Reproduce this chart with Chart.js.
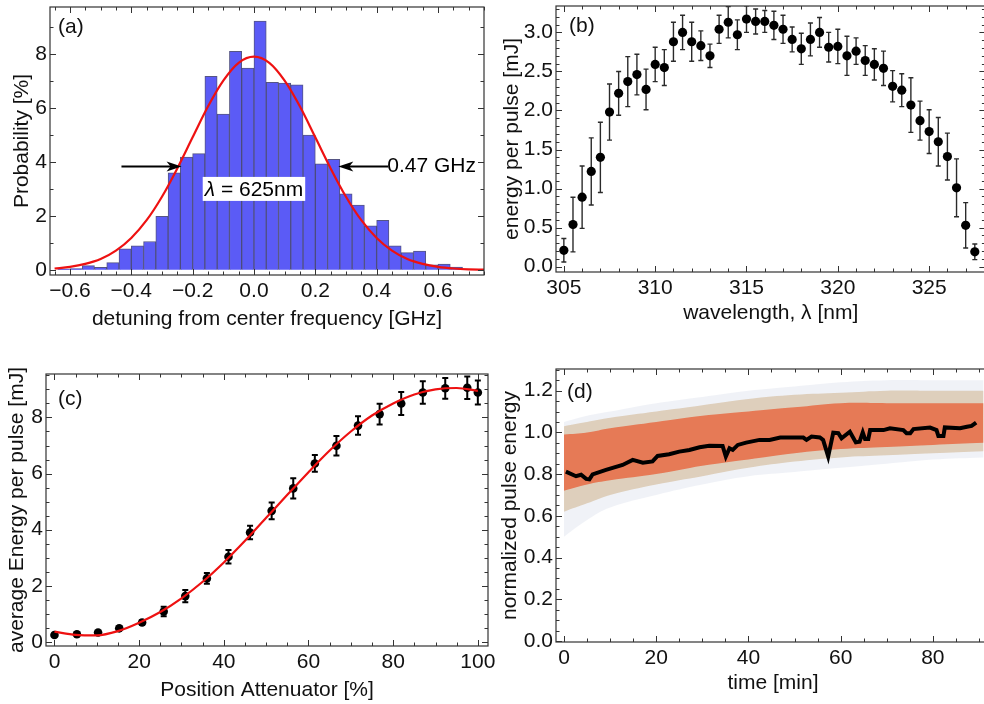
<!DOCTYPE html>
<html>
<head>
<meta charset="utf-8">
<script src="https://cdn.jsdelivr.net/npm/chart.js@4.4.1/dist/chart.umd.min.js"></script>
<style>
html, body { margin: 0; padding: 0; background: #fff; }
body { width: 984px; height: 704px; position: relative; overflow: hidden; }
canvas { position: absolute; }
</style>
</head>
<body>
<canvas id="chartA" width="492" height="340" style="left:0;top:0"></canvas>
<canvas id="chartB" width="500" height="340" style="left:490px;top:0"></canvas>
<canvas id="chartC" width="496" height="349" style="left:0;top:355px"></canvas>
<canvas id="chartD" width="500" height="349" style="left:490px;top:355px"></canvas>
<script>
// (a) histogram of detuning, bins of 0.04 GHz
const aBinCenter = [-0.62, -0.58, -0.54, -0.50, -0.46, -0.42, -0.38, -0.34, -0.30, -0.26, -0.22,
    -0.18, -0.14, -0.10, -0.06, -0.02, 0.02, 0.06, 0.10, 0.14, 0.18, 0.22,
    0.26, 0.30, 0.34, 0.38, 0.42, 0.46, 0.50, 0.54, 0.58, 0.62, 0.66];
const aProb = [0.04, 0.05, 0.16, 0.09, 0.27, 0.78, 0.89, 1.05, 1.98, 3.60, 4.18,
    4.31, 7.17, 5.77, 8.10, 7.48, 9.22, 6.95, 6.92, 6.86, 4.99, 3.93,
    4.10, 2.82, 2.40, 1.63, 1.84, 0.89, 0.64, 0.70, 0.19, 0.21, 0.10];
// gaussian fit curve
const aFitX = [-0.65, -0.60, -0.55, -0.50, -0.45, -0.40, -0.35, -0.30, -0.25, -0.20, -0.15, -0.10, -0.05,
    0.00, 0.05, 0.10, 0.15, 0.20, 0.25, 0.30, 0.35, 0.40, 0.45, 0.50, 0.55, 0.60, 0.65, 0.70, 0.75];
const aFitY = [0.05, 0.11, 0.22, 0.40, 0.71, 1.18, 1.84, 2.71, 3.76, 4.91, 6.05, 7.01, 7.67,
    7.90, 7.67, 7.01, 6.05, 4.91, 3.76, 2.71, 1.84, 1.18, 0.71, 0.40, 0.22, 0.11, 0.05, 0.02, 0.01];
const aArrowY = 3.83;
const aLeftArrow = [-0.432, -0.236];   // from, tip
const aRightArrow = [0.438, 0.275];   // from, tip
const aWidthText = '0.47 GHz';
const aLambdaPos = [0.0, 3.0];

// (b) energy vs wavelength
const bWave = [305, 305.5, 306, 306.5, 307, 307.5, 308, 308.5, 309, 309.5,
    310, 310.5, 311, 311.5, 312, 312.5, 313, 313.5, 314, 314.5,
    315, 315.5, 316, 316.5, 317, 317.5, 318, 318.5, 319, 319.5,
    320, 320.5, 321, 321.5, 322, 322.5, 323, 323.5, 324, 324.5,
    325, 325.5, 326, 326.5, 327, 327.5];
const bEnergy = [0.21, 0.54, 0.89, 1.22, 1.40, 1.98, 2.22, 2.37, 2.46, 2.27,
    2.59, 2.55, 2.88, 3.00, 2.88, 2.83, 2.70, 3.04, 3.13, 2.97,
    3.17, 3.14, 3.14, 3.09, 3.04, 2.91, 2.79, 2.91, 3.00, 2.81,
    2.82, 2.70, 2.76, 2.64, 2.59, 2.54, 2.31, 2.26, 2.07, 1.87,
    1.73, 1.60, 1.41, 1.01, 0.53, 0.19];
const bErr = [0.15, 0.35, 0.40, 0.43, 0.45, 0.36, 0.28, 0.32, 0.26, 0.26,
    0.22, 0.23, 0.25, 0.22, 0.25, 0.19, 0.15, 0.18, 0.20, 0.19,
    0.17, 0.16, 0.14, 0.18, 0.18, 0.16, 0.20, 0.21, 0.19, 0.19,
    0.22, 0.25, 0.17, 0.19, 0.20, 0.22, 0.20, 0.21, 0.35, 0.25,
    0.28, 0.31, 0.30, 0.37, 0.29, 0.10];

// (c) energy vs attenuator position
const cPos = [0, 5.3, 10.3, 15.3, 20.7, 25.8, 30.9, 36.0, 41.1, 46.2, 51.3,
    56.4, 61.5, 66.6, 71.7, 76.8, 81.9, 87.0, 92.3, 97.5, 100];
const cEnergy = [0.24, 0.27, 0.33, 0.48, 0.69, 1.08, 1.63, 2.26, 3.03, 3.90, 4.67,
    5.47, 6.36, 6.99, 7.71, 8.12, 8.50, 8.89, 9.04, 9.06, 8.89];
const cErr = [0.05, 0.05, 0.05, 0.06, 0.08, 0.17, 0.22, 0.19, 0.24, 0.24, 0.30,
    0.36, 0.30, 0.35, 0.33, 0.37, 0.41, 0.40, 0.37, 0.40, 0.43];
const cFitX = [0, 5, 10, 15, 20, 25, 30, 35, 40, 45, 50, 55, 60, 65, 70, 75, 80, 85, 90, 95, 100];
const cFitY = [0.36, 0.25, 0.23, 0.38, 0.68, 1.06, 1.55, 2.14, 2.83, 3.60, 4.42,
    5.24, 6.05, 6.82, 7.50, 8.07, 8.50, 8.82, 9.00, 9.05, 8.95];

// (d) pulse energy spread (envelopes of the point cloud) and running mean
const dBandT = [0, 5, 10, 20, 30, 40, 50, 60, 70, 80, 91];
const dOuterHi = [1.05, 1.08, 1.10, 1.14, 1.17, 1.20, 1.22, 1.24, 1.25, 1.25, 1.25];
const dOuterLo = [0.50, 0.58, 0.64, 0.70, 0.75, 0.79, 0.81, 0.83, 0.85, 0.87, 0.88];
const dMidHi = [1.03, 1.05, 1.07, 1.10, 1.13, 1.16, 1.18, 1.19, 1.20, 1.20, 1.20];
const dMidLo = [0.62, 0.66, 0.70, 0.75, 0.79, 0.83, 0.86, 0.88, 0.89, 0.90, 0.91];
const dCoreHi = [0.99, 1.00, 1.02, 1.05, 1.08, 1.10, 1.12, 1.14, 1.14, 1.14, 1.14];
const dCoreLo = [0.72, 0.75, 0.77, 0.80, 0.84, 0.87, 0.90, 0.92, 0.93, 0.94, 0.95];
const dTime = [0.4, 2.6, 3.7, 4.8, 5.5, 6.2, 9.1, 12.7, 14.9, 17.1, 19.2, 20.3, 22.8, 25.0, 27.2,
    29.4, 31.5, 34.4, 35.1, 35.9, 36.6, 37.7, 39.5, 42.4, 44.6, 46.9, 51.9, 52.6, 53.7, 55.5,
    56.2, 57.3, 58.4, 59.5, 60.2, 62.0, 63.3, 64.1, 64.8, 65.3, 66.0, 66.4, 69.3, 70.7, 73.6,
    74.3, 75.1, 75.8, 79.4, 80.8, 81.2, 82.3, 82.6, 85.9, 87.4, 88.4, 89.4];
const dMean = [0.812, 0.790, 0.797, 0.777, 0.775, 0.799, 0.820, 0.844, 0.868, 0.855, 0.861, 0.887, 0.895, 0.908, 0.916,
    0.929, 0.936, 0.935, 0.884, 0.924, 0.916, 0.940, 0.951, 0.964, 0.964, 0.975, 0.975, 0.964, 0.980, 0.976,
    0.964, 0.884, 0.999, 0.996, 0.972, 1.003, 0.952, 0.955, 1.000, 0.968, 0.968, 1.011, 1.011, 1.020, 1.011,
    0.996, 0.996, 1.016, 1.023, 1.011, 0.983, 0.983, 1.024, 1.020, 1.027, 1.031, 1.047];

const FONT = "'Liberation Sans', Arial, sans-serif";
Chart.defaults.font.family = FONT;
Chart.defaults.font.size = 21;
Chart.defaults.color = '#111';
Chart.defaults.animation = false;
Chart.defaults.events = [];
Chart.defaults.plugins.legend.display = false;
Chart.defaults.plugins.tooltip.enabled = false;

const pts = (xs, ys) => xs.map((x, i) => ({ x, y: ys[i] }));

function fmt(v, digits) {
    if (Math.abs(v) < 1e-9) v = 0;
    return v.toFixed(digits).replace('-', '\u2212');
}

// axis with fixed thickness so the plot frames land where they should
function axis({ min, max, step, digits, size, title, titlePad, tickPad, horizontal }) {
    return {
        type: 'linear', min, max, offset: false,
        grid: { display: false, drawTicks: false },
        border: { display: false },
        ticks: {
            stepSize: step, includeBounds: false, autoSkip: false, maxRotation: 0,
            padding: tickPad, callback: v => fmt(v, digits)
        },
        title: { display: true, text: title, padding: titlePad },
        afterFit(s) {
            if (horizontal) s.height = size; else s.width = size;
            s.paddingLeft = s.paddingRight = s.paddingTop = s.paddingBottom = 0;
        }
    };
}

// Mathematica style frame: box with inward ticks on every side + panel letter
const framePlugin = {
    id: 'frame',
    afterDraw(chart, args, o) {
        const { ctx, chartArea: a, scales: { x, y } } = chart;
        ctx.save();
        ctx.strokeStyle = '#333';
        ctx.lineWidth = 1.2;
        ctx.strokeRect(a.left, a.top, a.right - a.left, a.bottom - a.top);
        ctx.lineWidth = 1;
        ctx.beginPath();
        const isMajor = (v, step) => Math.abs(v / step - Math.round(v / step)) < 1e-6;
        for (let k = Math.ceil(x.min / o.xMinor - 1e-9); k * o.xMinor <= x.max + 1e-9; k++) {
            const v = k * o.xMinor;
            const len = isMajor(v, o.xMajor) ? 6 : 3.5;
            const px = Math.round(x.getPixelForValue(v)) + 0.5;
            ctx.moveTo(px, a.bottom); ctx.lineTo(px, a.bottom - len);
            ctx.moveTo(px, a.top); ctx.lineTo(px, a.top + len);
        }
        for (let k = Math.ceil(y.min / o.yMinor - 1e-9); k * o.yMinor <= y.max + 1e-9; k++) {
            const v = k * o.yMinor;
            const len = isMajor(v, o.yMajor) ? 6 : 3.5;
            const py = Math.round(y.getPixelForValue(v)) + 0.5;
            ctx.moveTo(a.left, py); ctx.lineTo(a.left + len, py);
            ctx.moveTo(a.right, py); ctx.lineTo(a.right - len, py);
        }
        ctx.stroke();
        ctx.fillStyle = '#111';
        ctx.font = '21px ' + FONT;
        ctx.textBaseline = 'middle';
        ctx.textAlign = 'left';
        ctx.fillText(o.label, a.left + o.labelDx, a.top + o.labelDy);
        ctx.restore();
    }
};

const errorBarPlugin = {
    id: 'errorBars',
    beforeDatasetsDraw(chart, args, o) {
        const { ctx, chartArea: a, scales: { y } } = chart;
        ctx.save();
        ctx.beginPath();
        ctx.rect(a.left, a.top, a.right - a.left, a.bottom - a.top);
        ctx.clip();
        ctx.strokeStyle = o.color;
        ctx.lineWidth = o.width;
        chart.data.datasets.forEach((ds, i) => {
            if (!ds.errors) return;
            chart.getDatasetMeta(i).data.forEach((el, j) => {
                const v = ds.data[j].y, e = ds.errors[j];
                const top = y.getPixelForValue(v + e), bot = y.getPixelForValue(v - e);
                ctx.beginPath();
                ctx.moveTo(el.x, top); ctx.lineTo(el.x, bot);
                ctx.moveTo(el.x - o.cap, top); ctx.lineTo(el.x + o.cap, top);
                ctx.moveTo(el.x - o.cap, bot); ctx.lineTo(el.x + o.cap, bot);
                ctx.stroke();
            });
        });
        ctx.restore();
    }
};

function arrow(ctx, x0, x1, y) {
    const dir = Math.sign(x1 - x0);
    ctx.beginPath();
    ctx.moveTo(x0, y); ctx.lineTo(x1 - dir * 10, y);
    ctx.stroke();
    ctx.beginPath();
    ctx.moveTo(x1, y);
    ctx.lineTo(x1 - dir * 15, y - 5);
    ctx.lineTo(x1 - dir * 11, y);
    ctx.lineTo(x1 - dir * 15, y + 5);
    ctx.closePath();
    ctx.fill();
}

// FWHM arrows and wavelength label of panel (a)
const fwhmPlugin = {
    id: 'fwhm',
    afterDatasetsDraw(chart) {
        const { ctx, scales: { x, y } } = chart;
        const ya = y.getPixelForValue(aArrowY);
        ctx.save();
        ctx.strokeStyle = '#000';
        ctx.fillStyle = '#000';
        ctx.lineWidth = 2;
        arrow(ctx, x.getPixelForValue(aLeftArrow[0]), x.getPixelForValue(aLeftArrow[1]), ya);
        arrow(ctx, x.getPixelForValue(aRightArrow[0]), x.getPixelForValue(aRightArrow[1]), ya);
        ctx.textBaseline = 'middle';
        ctx.textAlign = 'left';
        ctx.font = '21px ' + FONT;
        ctx.fillText(aWidthText, x.getPixelForValue(aRightArrow[0]) - 1, ya);

        const lam = 'λ', rest = ' = 625nm';
        ctx.font = 'italic 21px ' + FONT;
        const wl = ctx.measureText(lam).width;
        ctx.font = '21px ' + FONT;
        const wr = ctx.measureText(rest).width;
        const cx = x.getPixelForValue(aLambdaPos[0]), cy = y.getPixelForValue(aLambdaPos[1]);
        const w = wl + wr + 4, left = cx - w / 2;
        ctx.fillStyle = '#fff';
        ctx.fillRect(left, cy - 12, w, 24);
        ctx.fillStyle = '#000';
        ctx.font = 'italic 21px ' + FONT;
        ctx.fillText(lam, left + 2, cy + 1);
        ctx.font = '21px ' + FONT;
        ctx.fillText(rest, left + 2 + wl, cy + 1);
        ctx.restore();
    }
};

// (a)
new Chart(document.getElementById('chartA'), {
    type: 'bar',
    data: {
        datasets: [
            {
                type: 'line', data: pts(aFitX, aFitY), borderColor: '#ee1111', borderWidth: 2.2,
                pointRadius: 0, cubicInterpolationMode: 'monotone', order: 0
            },
            {
                type: 'bar', data: pts(aBinCenter, aProb), backgroundColor: '#5b5bf6',
                borderColor: 'rgba(55,55,110,0.85)', borderWidth: 1,
                barPercentage: 1, categoryPercentage: 1, order: 1
            }
        ]
    },
    options: {
        responsive: false,
        layout: { padding: { top: 7, right: 8, left: 0, bottom: 0 } },
        scales: {
            x: axis({ min: -0.665, max: 0.75, step: 0.2, digits: 1, size: 65, horizontal: true,
                title: 'detuning from center frequency [GHz]', titlePad: { top: 0, bottom: 8.4 }, tickPad: 4 }),
            y: axis({ min: -0.19, max: 9.74, step: 2, digits: 0, size: 50,
                title: 'Probability [%]', titlePad: { top: 9.4, bottom: 0 }, tickPad: 3 })
        },
        plugins: { frame: { xMajor: 0.2, xMinor: 0.05, yMajor: 2, yMinor: 1, label: '(a)', labelDx: 8, labelDy: 20 } }
    },
    plugins: [fwhmPlugin, framePlugin]
});

// (b)
new Chart(document.getElementById('chartB'), {
    type: 'scatter',
    data: {
        datasets: [{
            data: pts(bWave, bEnergy), errors: bErr, pointRadius: 4.6,
            backgroundColor: '#000', borderWidth: 0
        }]
    },
    options: {
        responsive: false,
        layout: { padding: { top: 6, right: 0, left: 0, bottom: 0 } },
        scales: {
            x: axis({ min: 304.57, max: 328.08, step: 5, digits: 0, size: 68, horizontal: true,
                title: 'wavelength, λ [nm]', titlePad: { top: 0, bottom: 14.4 }, tickPad: 4 }),
            y: axis({ min: -0.068, max: 3.338, step: 0.5, digits: 1, size: 66,
                title: 'energy per pulse [mJ]', titlePad: { top: 9.4, bottom: 0 }, tickPad: 3 })
        },
        plugins: {
            frame: { xMajor: 5, xMinor: 1, yMajor: 0.5, yMinor: 0.1, label: '(b)', labelDx: 13, labelDy: 20 },
            errorBars: { color: '#2a2a2a', width: 1.4, cap: 2.5 }
        }
    },
    plugins: [errorBarPlugin, framePlugin]
});

// (c)
new Chart(document.getElementById('chartC'), {
    type: 'scatter',
    data: {
        datasets: [
            {
                type: 'line', data: pts(cFitX, cFitY), borderColor: '#ee1111', borderWidth: 2.2,
                pointRadius: 0, cubicInterpolationMode: 'monotone', order: 0
            },
            {
                data: pts(cPos, cEnergy), errors: cErr, pointRadius: 4.3,
                backgroundColor: '#000', borderWidth: 0, order: 1
            }
        ]
    },
    options: {
        responsive: false,
        layout: { padding: { top: 19, right: 8, left: 0, bottom: 0 } },
        scales: {
            x: axis({ min: -2.0, max: 102.4, step: 20, digits: 0, size: 58, horizontal: true,
                title: 'Position Attenuator [%]', titlePad: { top: 0, bottom: 1.4 }, tickPad: 4 }),
            y: axis({ min: -0.15, max: 9.55, step: 2, digits: 0, size: 46,
                title: 'average Energy per pulse [mJ]', titlePad: { top: 4.4, bottom: 0 }, tickPad: 3 })
        },
        plugins: {
            frame: { xMajor: 20, xMinor: 5, yMajor: 2, yMinor: 0.5, label: '(c)', labelDx: 12, labelDy: 25 },
            errorBars: { color: '#000', width: 2, cap: 3 }
        }
    },
    plugins: [errorBarPlugin, framePlugin]
});

// (d)
const band = (ys, color, fill, order) => ({
    data: pts(dBandT, ys), borderWidth: 0, pointRadius: 0, tension: 0.4,
    backgroundColor: color, fill, order
});
new Chart(document.getElementById('chartD'), {
    type: 'line',
    data: {
        datasets: [
            band(dOuterHi, 'rgba(165,175,205,0.17)', '+1', 3),
            band(dOuterLo, 'transparent', false, 3),
            band(dMidHi, 'rgba(200,165,115,0.45)', '+1', 2),
            band(dMidLo, 'transparent', false, 2),
            band(dCoreHi, 'rgba(232,98,58,0.78)', '+1', 1),
            band(dCoreLo, 'transparent', false, 1),
            { data: pts(dTime, dMean), borderColor: '#000', borderWidth: 4, pointRadius: 0, fill: false, order: 0 }
        ]
    },
    options: {
        responsive: false,
        layout: { padding: { top: 14, right: 0, left: 0, bottom: 0 } },
        scales: {
            x: axis({ min: -1.74, max: 92.4, step: 20, digits: 0, size: 62, horizontal: true,
                title: 'time [min]', titlePad: { top: 0, bottom: 8.4 }, tickPad: 4 }),
            y: axis({ min: -0.005, max: 1.304, step: 0.2, digits: 1, size: 66,
                title: 'normalized pulse energy', titlePad: { top: 7.4, bottom: 0 }, tickPad: 3 })
        },
        plugins: { frame: { xMajor: 20, xMinor: 5, yMajor: 0.2, yMinor: 0.05, label: '(d)', labelDx: 11, labelDy: 23 } }
    },
    plugins: [framePlugin]
});
</script>
</body>
</html>
